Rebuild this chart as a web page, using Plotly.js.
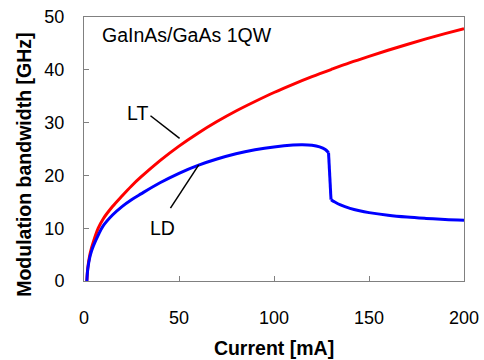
<!DOCTYPE html>
<html>
<head>
<meta charset="utf-8">
<script src="https://cdn.plot.ly/plotly-3.0.1.min.js"></script>
<style>html,body{margin:0;padding:0;background:#fff;}#chart{width:484px;height:360px;}</style>
</head>
<body>
<div id="chart"></div>
<script>
// Current [mA] and modulation bandwidth [GHz]
const ltCurrent = [1.5, 2, 3, 4, 5, 7.5, 10, 15, 20, 25, 30, 40, 50, 60, 70, 80, 90, 100, 110, 120, 130, 140, 150, 160, 170, 180, 190, 200];
const ltBandwidth = [0, 2.5, 4.8, 6.3, 7.5, 10, 11.7, 14.1, 16.1, 18.0, 19.7, 22.8, 25.55, 28.0, 30.2, 32.2, 34.0, 35.7, 37.25, 38.7, 40.05, 41.35, 42.55, 43.7, 44.8, 45.85, 46.85, 47.8];

const ldCurrent = [1.5, 2, 3, 4, 5, 7.5, 10, 15, 20, 25, 30, 40, 50, 60, 70, 80, 90, 100, 110, 115, 120, 124, 127, 128.7, 130, 132, 135, 140, 145, 150, 160, 170, 180, 190, 200];
const ldBandwidth = [0, 2.3, 4.4, 5.7, 6.7, 8.7, 10.4, 12.5, 14.1, 15.4, 16.5, 18.6, 20.4, 21.9, 23.1, 24.1, 24.85, 25.4, 25.75, 25.8, 25.7, 25.4, 24.9, 24.3, 15.4, 14.95, 14.4, 13.75, 13.3, 12.95, 12.45, 12.1, 11.85, 11.65, 11.5];

const xTicks = [0, 50, 100, 150, 200];
const yTicks = [0, 10, 20, 30, 40, 50];

const FONT = 'Arial, "Liberation Sans", sans-serif';

// split LD at the abrupt drop: smooth before, straight drop, smooth after
const dropStart = ldCurrent.indexOf(128.7);
const dropEnd = ldCurrent.indexOf(130);

const ldColor = '#0000ff';
const traces = [
  {x: ltCurrent, y: ltBandwidth, mode: 'lines', name: 'LT', line: {color: '#ff0000', width: 3, shape: 'spline', smoothing: 1}, hoverinfo: 'skip'},
  {x: ldCurrent.slice(0, dropStart + 1), y: ldBandwidth.slice(0, dropStart + 1), mode: 'lines', name: 'LD', line: {color: ldColor, width: 3, shape: 'spline', smoothing: 1}, hoverinfo: 'skip'},
  {x: ldCurrent.slice(dropStart, dropEnd + 1), y: ldBandwidth.slice(dropStart, dropEnd + 1), mode: 'lines', name: 'LD', line: {color: ldColor, width: 3}, hoverinfo: 'skip'},
  {x: ldCurrent.slice(dropEnd), y: ldBandwidth.slice(dropEnd), mode: 'lines', name: 'LD', line: {color: ldColor, width: 3, shape: 'spline', smoothing: 1}, hoverinfo: 'skip'}
];

const axisCommon = {
  showline: true, mirror: true, linecolor: '#808080', linewidth: 1,
  ticks: 'inside', ticklen: 5, tickcolor: '#808080', tickwidth: 1,
  showgrid: false, zeroline: false,
  tickfont: {family: FONT, size: 18, color: '#000'}
};

const layout = {
  width: 484, height: 360,
  margin: {l: 84, r: 20, t: 17, b: 79},
  paper_bgcolor: '#fff', plot_bgcolor: '#fff',
  showlegend: false,
  font: {family: FONT, color: '#000'},
  xaxis: Object.assign({}, axisCommon, {
    range: [0, 200], tickvals: xTicks, ticktext: xTicks.map(String),
    ticklabelstandoff: 20,
    title: {text: '<b>Current [mA]</b>', font: {family: FONT, size: 19.5, color: '#000'}, standoff: 14}
  }),
  yaxis: Object.assign({}, axisCommon, {
    range: [0, 50], tickvals: yTicks, ticktext: yTicks.map(String),
    ticklabelstandoff: 15
  }),
  annotations: [
    {text: '<b>Modulation bandwidth [GHz]</b>', xref: 'paper', yref: 'paper', x: -0.158, y: 0.44, textangle: -90, showarrow: false, font: {family: FONT, size: 19.5, color: '#000'}, xanchor: 'center', yanchor: 'middle'},
    {text: 'GaInAs/GaAs 1QW', x: 8.2, y: 46.6, xref: 'x', yref: 'y', showarrow: false, xanchor: 'left', yanchor: 'middle', font: {family: FONT, size: 19.5, color: '#000'}},
    {text: 'LT', x: 28.4, y: 31.9, xref: 'x', yref: 'y', showarrow: false, xanchor: 'center', yanchor: 'middle', font: {family: FONT, size: 19.5, color: '#000'}},
    {text: 'LD', x: 41.1, y: 10.0, xref: 'x', yref: 'y', showarrow: false, xanchor: 'center', yanchor: 'middle', font: {family: FONT, size: 19.5, color: '#000'}}
  ],
  shapes: [
    {type: 'line', xref: 'x', yref: 'y', x0: 35, y0: 31.3, x1: 50.3, y1: 27.0, line: {color: '#000', width: 1.5}},
    {type: 'line', xref: 'x', yref: 'y', x0: 45.5, y0: 13.8, x1: 60.4, y1: 22.0, line: {color: '#000', width: 1.5}}
  ]
};

Plotly.newPlot('chart', traces, layout, {staticPlot: true, displayModeBar: false});
</script>
</body>
</html>
